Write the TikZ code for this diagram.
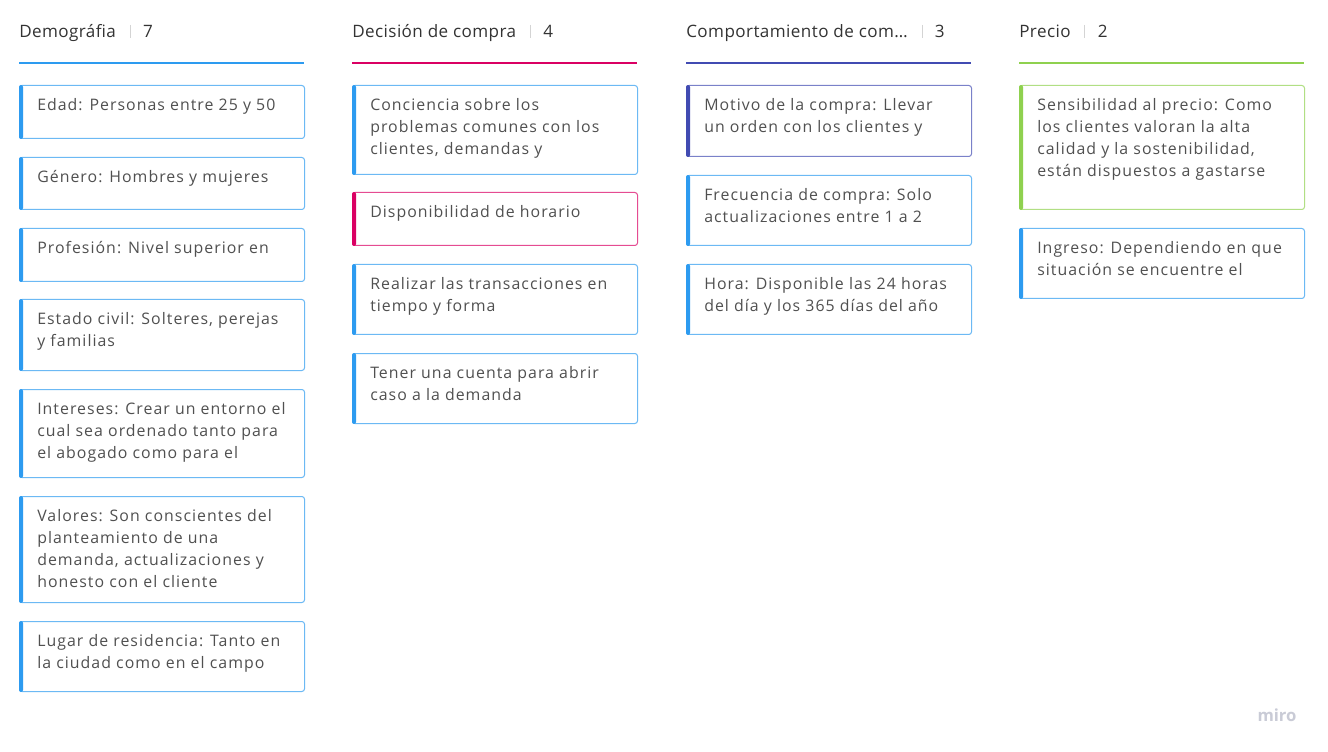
\documentclass[tikz,border=0pt]{standalone}
\usepackage{fontspec}
\setmainfont{Open Sans}
\newfontfamily\cardfont[LetterSpace=6.5]{Open Sans}
\newfontfamily\headfont[LetterSpace=2.5]{Open Sans}
\usetikzlibrary{calc}

\definecolor{mblue}{HTML}{2D9BF0}
\definecolor{mpink}{HTML}{DA0063}
\definecolor{mindigo}{HTML}{414BB2}
\definecolor{mgreen}{HTML}{8FD14F}
\definecolor{cardtxt}{HTML}{505050}
\definecolor{headtxt}{HTML}{333333}
\definecolor{sepgray}{HTML}{D4D4D4}
\definecolor{logogray}{HTML}{C9CBD6}

\tikzset{
  cardbox/.style={draw=#1!70, rounded corners=2pt, line width=0.75pt,
    anchor=north west, minimum width=213.75pt, inner sep=0pt},
  cardtext/.style={anchor=north west, inner sep=0pt, align=left, text=cardtxt,
    font=\cardfont\fontsize{11.9}{16.5}\selectfont},
  headtext/.style={anchor=base west, inner sep=0pt, text=headtxt,
    font=\headfont\fontsize{12.8}{15}\selectfont},
  sepline/.style={sepgray, line width=0.75pt},
  headline/.style={#1, line width=1.5pt}
}

% card: name, x, y, height, colour, text
\newcommand{\card}[6]{%
  \node[cardbox=#5, minimum height={#4*0.75pt}] (#1) at (#2,#3) {};
  \fill[#5, rounded corners=1.5pt] (#1.north west) rectangle ([xshift=3pt]#1.south west);
  \node[cardtext] (#1t) at ([xshift=13.5pt,yshift=-10pt]#1.north west) {#6};
}

% column head: name, x, title, count, colour
\newcommand{\colhead}[5]{%
  \node[headtext] (#1) at (#2,37.5) {#3};
  \draw[sepline] ([xshift=10.5pt,yshift=9.5pt]#1.base east) -- ([xshift=10.5pt,yshift=-0.5pt]#1.base east);
  \node[headtext] (#1n) at ([xshift=20pt]#1.base east) {#4};
  \draw[headline=#5] (#2,63) -- (#2+285,63);
}

\begin{document}
\begin{tikzpicture}[x=0.75pt, y=-0.75pt]
    \fill[white] (0,0) rectangle (1328,752);
    \useasboundingbox (0,0) rectangle (1328,752);

    \colhead{dem}{19}{Demográfia}{7}{mblue}
    \colhead{dec}{352}{Decisión de compra}{4}{mpink}
    \colhead{com}{686}{Comportamiento de com…}{3}{mindigo}
    \colhead{pre}{1019}{Precio}{2}{mgreen}

    % Demografia
    \card{d1}{19}{85}{53}{mblue}{Edad: Personas entre 25 y 50}
    \card{d2}{19}{157}{52}{mblue}{Género: Hombres y mujeres}
    \card{d3}{19}{228}{53}{mblue}{Profesión: Nivel superior en}
    \card{d4}{19}{299}{71}{mblue}{Estado civil: Solteres, perejas\\y familias}
    \card{d5}{19}{389}{88}{mblue}{Intereses: Crear un entorno el\\cual sea ordenado tanto para\\el abogado como para el}
    \card{d6}{19}{496}{106}{mblue}{Valores: Son conscientes del\\planteamiento de una\\demanda, actualizaciones y\\honesto con el cliente}
    \card{d7}{19}{621}{70}{mblue}{Lugar de residencia: Tanto en\\la ciudad como en el campo}

    % Decision de compra
    \card{c1}{352}{85}{89}{mblue}{Conciencia sobre los\\problemas comunes con los\\clientes, demandas y}
    \card{c2}{352}{192}{53}{mpink}{Disponibilidad de horario}
    \card{c3}{352}{264}{70}{mblue}{Realizar las transacciones en\\tiempo y forma}
    \card{c4}{352}{353}{70}{mblue}{Tener una cuenta para abrir\\caso a la demanda}

    % Comportamiento
    \card{b1}{686}{85}{71}{mindigo}{Motivo de la compra: Llevar\\un orden con los clientes y}
    \card{b2}{686}{175}{70}{mblue}{Frecuencia de compra: Solo\\actualizaciones entre 1 a 2}
    \card{b3}{686}{264}{70}{mblue}{Hora: Disponible las 24 horas\\del día y los 365 días del año}

    % Precio
    \card{p1}{1019}{85}{124}{mgreen}{Sensibilidad al precio: Como\\los clientes valoran la alta\\calidad y la sostenibilidad,\\están dispuestos a gastarse}
    \card{p2}{1019}{228}{70}{mblue}{Ingreso: Dependiendo en que\\situación se encuentre el}

    \node[text=logogray, font=\fontsize{12.5}{15}\selectfont\bfseries] (logo) at (1277,715) {miro};
\end{tikzpicture}
\end{document}
